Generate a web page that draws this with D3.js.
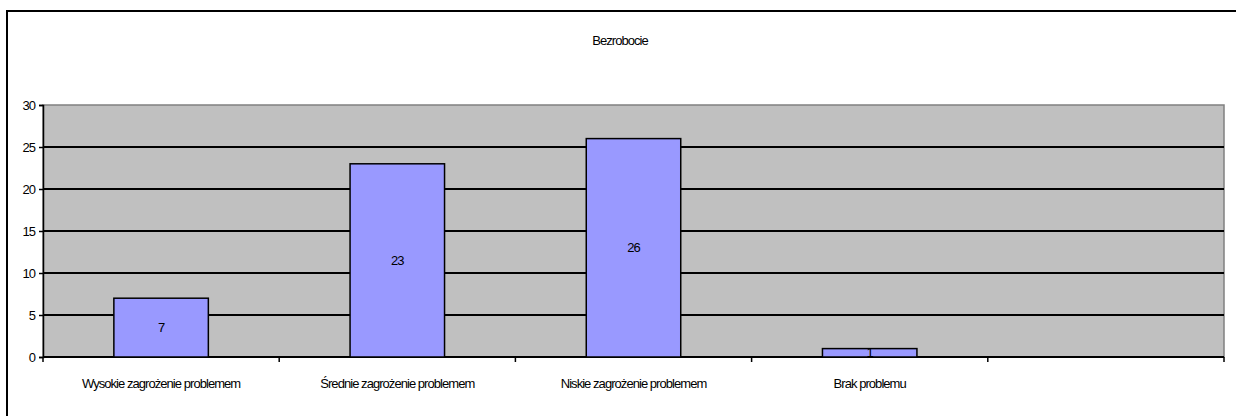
<!DOCTYPE html>
<head>
  <meta charset="utf-8">
  <script src="https://d3js.org/d3.v7.min.js"></script>
  <style>
    body { margin: 0; background: #fff; }
    text {
      font-family: "Liberation Sans", Arial, sans-serif;
      font-size: 13px;
      letter-spacing: -0.95px;
      fill: #000;
    }
    .bar { fill: #9999ff; stroke: #000; stroke-width: 1.5; }
  </style>
</head>
<body>
<script>
  var title = "Bezrobocie";
  var categories = ["Wysokie zagrożenie problemem", "Średnie zagrożenie problemem",
                    "Niskie zagrożenie problemem", "Brak problemu", ""];
  var values = [7, 23, 26, 1, null];
  var yTicks = [0, 5, 10, 15, 20, 25, 30];

  var W = 1236, H = 416;
  var plot = { left: 43, right: 1224, top: 105, bottom: 357 };

  var svg = d3.select("body").append("svg")
      .attr("width", W)
      .attr("height", H);

  // outer chart border (right/bottom fall outside the picture)
  svg.append("rect")
      .attr("x", 7).attr("y", 11)
      .attr("width", W + 10).attr("height", H + 10)
      .attr("fill", "#fff")
      .attr("stroke", "#000")
      .attr("stroke-width", 2);

  svg.append("text")
      .attr("x", 620).attr("y", 45)
      .attr("text-anchor", "middle")
      .text(title);

  var x = d3.scaleBand()
      .domain(categories.map(function(d, i) { return i; }))
      .range([plot.left, plot.right]);

  var y = d3.scaleLinear()
      .domain([0, 30])
      .range([plot.bottom, plot.top]);

  // plot area
  svg.append("rect")
      .attr("x", plot.left).attr("y", plot.top)
      .attr("width", plot.right - plot.left)
      .attr("height", plot.bottom - plot.top)
      .attr("fill", "#c0c0c0")
      .attr("stroke", "#808080")
      .attr("stroke-width", 1.5);

  // gridlines
  svg.selectAll(".grid")
      .data(yTicks.filter(function(d) { return d > 0 && d < 30; }))
    .enter().append("line")
      .attr("x1", plot.left).attr("x2", plot.right)
      .attr("y1", function(d) { return y(d); })
      .attr("y2", function(d) { return y(d); })
      .attr("stroke", "#000")
      .attr("stroke-width", 2);

  // y axis
  var yAxis = svg.append("g")
      .attr("transform", "translate(" + plot.left + ",0)")
      .call(d3.axisLeft(y).tickValues(yTicks).tickSize(4).tickPadding(4));
  yAxis.select(".domain").attr("stroke", "#000").attr("stroke-width", 1.5);
  yAxis.selectAll(".tick line").attr("stroke", "#000").attr("stroke-width", 1.5);
  yAxis.selectAll("text").attr("font-size", null).attr("font-family", null);

  // x axis
  var xAxis = svg.append("g")
      .attr("transform", "translate(0," + plot.bottom + ")");
  xAxis.append("line")
      .attr("x1", plot.left).attr("x2", plot.right)
      .attr("stroke", "#000").attr("stroke-width", 2);
  xAxis.selectAll(".xtick")
      .data(d3.range(categories.length + 1))
    .enter().append("line")
      .attr("x1", function(i) { return plot.left + i * x.step(); })
      .attr("x2", function(i) { return plot.left + i * x.step(); })
      .attr("y1", 0).attr("y2", 5)
      .attr("stroke", "#000").attr("stroke-width", 1.5);
  xAxis.selectAll(".xlab")
      .data(categories)
    .enter().append("text")
      .attr("x", function(d, i) { return x(i) + x.bandwidth() / 2; })
      .attr("y", 31)
      .attr("text-anchor", "middle")
      .text(function(d) { return d; });

  // bars
  var bw = x.bandwidth() * 0.4;
  var data = values.map(function(v, i) { return { i: i, v: v }; })
      .filter(function(d) { return d.v != null; });

  svg.selectAll(".bar")
      .data(data)
    .enter().append("rect")
      .attr("class", "bar")
      .attr("x", function(d) { return x(d.i) + (x.bandwidth() - bw) / 2; })
      .attr("width", bw)
      .attr("y", function(d) { return y(d.v); })
      .attr("height", function(d) { return y(0) - y(d.v); });

  svg.selectAll(".val")
      .data(data)
    .enter().append("text")
      .attr("x", function(d) { return x(d.i) + x.bandwidth() / 2; })
      .attr("y", function(d) { return (y(d.v) + y(0)) / 2; })
      .attr("dy", "0.35em")
      .attr("text-anchor", "middle")
      .text(function(d) { return d.v; });
</script>
</body>
